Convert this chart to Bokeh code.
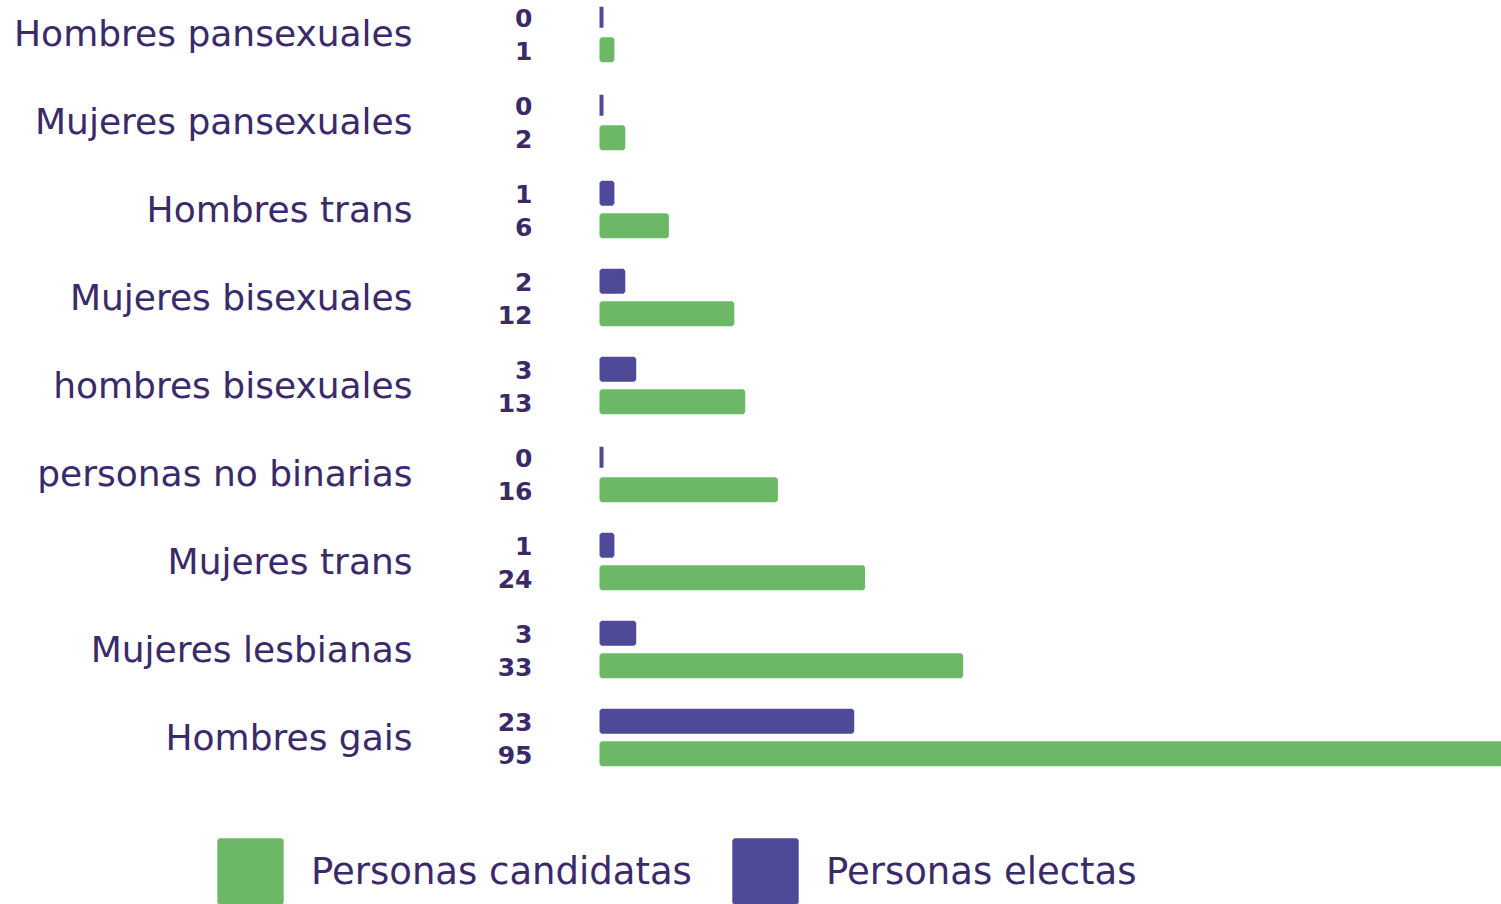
from bokeh.plotting import figure
from bokeh.models import ColumnDataSource, Range1d, Legend, LegendItem
from bokeh.core.properties import value
from bokeh.transform import dodge
from bokeh.embed import file_html
from bokeh.resources import INLINE
import numpy as np

categories = ["Hombres pansexuales", "Mujeres pansexuales", "Hombres trans",
              "Mujeres bisexuales", "hombres bisexuales", "personas no binarias",
              "Mujeres trans", "Mujeres lesbianas", "Hombres gais"]
electas = [0, 0, 1, 2, 3, 0, 1, 3, 23]
candidatas = [1, 2, 6, 12, 13, 16, 24, 33, 95]

TEXT = "#3b2a6a"
PURPLE = "#4e4a98"
GREEN = "#6cb866"
FONT = "DejaVu Sans"

W, H = 1501, 904
idx = np.arange(len(categories))
src = ColumnDataSource(dict(
    y=idx, cat=categories,
    e=electas, c=candidatas,
    e_lbl=[str(v) for v in electas], c_lbl=[str(v) for v in candidatas],
))

p = figure(width=W, height=H, output_backend="svg", toolbar_location=None,
           x_range=Range1d(-55.14, 82.57), y_range=Range1d(9.898, -0.375),
           x_axis_type=None, y_axis_type=None, min_border=0)
p.outline_line_color = None
p.grid.visible = False
p.background_fill_color = "white"
p.border_fill_color = "white"

r_e = p.hbar(y=dodge("y", -0.185, range=p.y_range), left=0, right="e", height=0.24,
             source=src, fill_color=PURPLE, line_color=PURPLE, line_width=4)
r_c = p.hbar(y=dodge("y", 0.185, range=p.y_range), left=0, right="c", height=0.24,
             source=src, fill_color=GREEN, line_color=GREEN, line_width=4)

p.text(x=0, y="y", text="cat", source=src, x_offset=-189, y_offset=0,
       text_align="right", text_baseline="middle", text_color=TEXT,
       text_font=value(FONT), text_font_size="36px")
p.text(x=0, y=dodge("y", -0.185, range=p.y_range), text="e_lbl", source=src, x_offset=-69,
       y_offset=1, text_align="right", text_baseline="middle", text_color=TEXT,
       text_font=value(FONT), text_font_size="25px", text_font_style="bold")
p.text(x=0, y=dodge("y", 0.185, range=p.y_range), text="c_lbl", source=src, x_offset=-69,
       y_offset=1, text_align="right", text_baseline="middle", text_color=TEXT,
       text_font=value(FONT), text_font_size="25px", text_font_style="bold")

legend = Legend(items=[LegendItem(label="Personas candidatas", renderers=[r_c]),
                       LegendItem(label="Personas electas", renderers=[r_e])],
                orientation="horizontal", location=(211, -6),
                glyph_width=78, glyph_height=78, label_standoff=22, spacing=34,
                padding=0, margin=0, border_line_color=None,
                background_fill_alpha=0,
                label_text_font=FONT, label_text_font_size="37px",
                label_text_color=TEXT)
p.add_layout(legend, "center")

open("out.html", "w").write(file_html(p, INLINE))
